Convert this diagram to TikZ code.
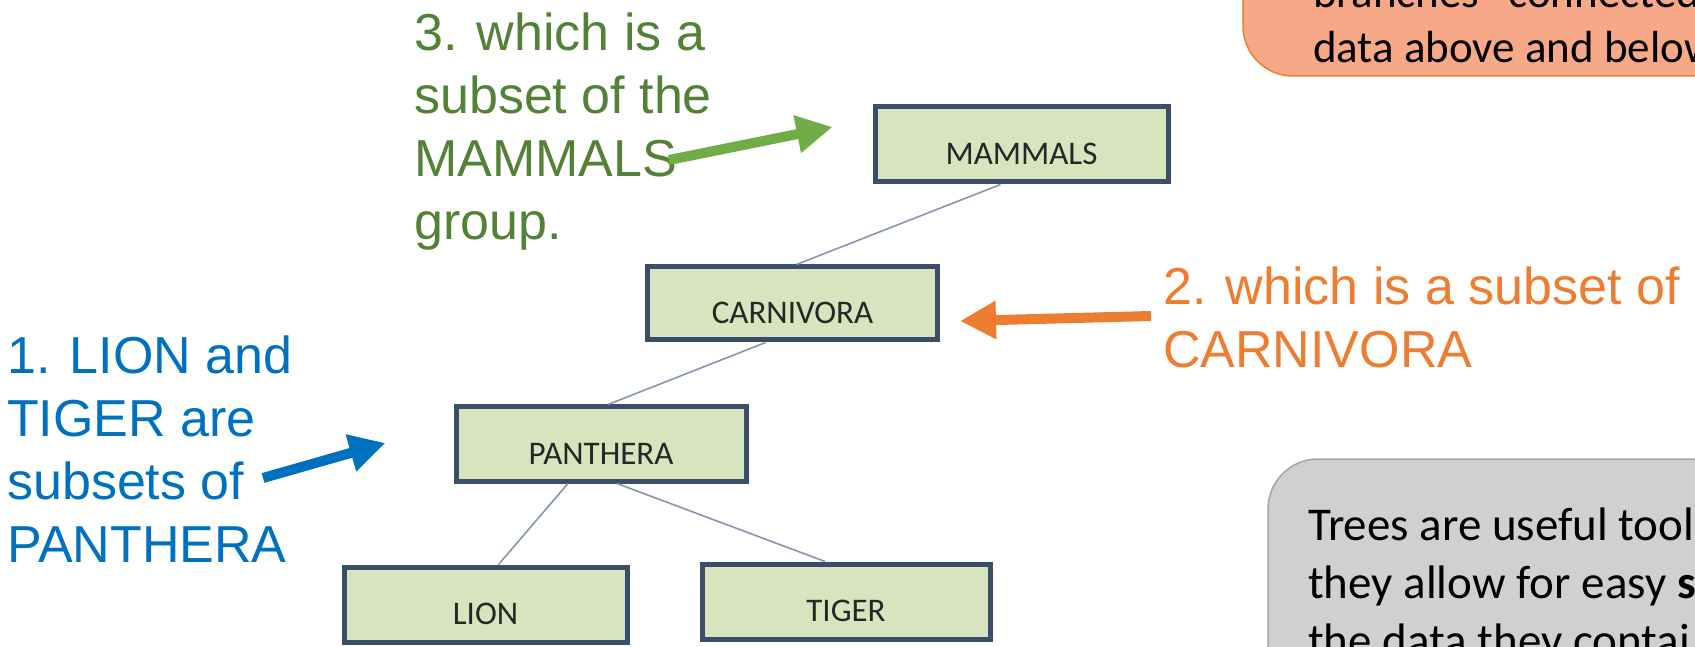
\documentclass[tikz,border=0pt]{standalone}
\usepackage{fontspec}
\setmainfont{Carlito}
\newfontfamily\arialfont{Liberation Sans}
\usetikzlibrary{arrows.meta}
\definecolor{boxfill}{HTML}{D7E4BD}
\definecolor{boxline}{HTML}{3A4D69}
\definecolor{branch}{HTML}{8496B0}
\definecolor{notegreen}{HTML}{538135}
\definecolor{arrowgreen}{HTML}{70AD47}
\definecolor{noteorange}{HTML}{ED7D31}
\definecolor{noteblue}{HTML}{0070C0}
\definecolor{calloutfill}{HTML}{F6A887}
\definecolor{greyfill}{HTML}{D0D0D0}
\definecolor{greyline}{HTML}{A6A6A6}

\begin{document}
\begin{tikzpicture}[x=1pt, y=1pt,
    taxon/.style={draw=boxline, fill=boxfill, line width=5pt, minimum width=290pt, minimum height=75pt, inner sep=0pt, text height=40pt, text depth=0pt, text=black!85, font=\fontsize{33}{40}\selectfont},
    branchline/.style={draw=branch, line width=1.6pt},
    note/.style={anchor=base west, align=left, inner sep=0pt, font=\arialfont\fontsize{52}{63}\selectfont},
    bigarrow/.style={line width=10pt, -{Triangle[length=36pt, width=36pt]}},
    callout/.style={rounded corners=50pt, line width=1.5pt},
    callouttext/.style={anchor=base west, align=left, inner sep=0pt, text=black}]
  \useasboundingbox (0,0) rectangle (1695,646);
  \clip (0,0) rectangle (1695,646);

  % callouts at the right, cut by the frame
  \draw[callout, draw=noteorange, fill=calloutfill] (1243,570) rectangle (1800,760);
  \node[callouttext, font=\fontsize{45}{55}\selectfont] (branchtext) at (1313,583) {branches” connected\\data above and below};
  \draw[callout, draw=greyline, fill=greyfill] (1268,187) rectangle (1800,-100);
  \node[callouttext, font=\fontsize{47}{58}\selectfont] (treetext) at (1308,-10) {Trees are useful tool\\they allow for easy \textbf{s}\\the data they contai};

  % the tree
  \node[taxon, minimum width=293pt] (mammals) at (1021.5,501.5) {MAMMALS};
  \node[taxon, minimum height=73pt] (carnivora) at (792.5,342.5) {CARNIVORA};
  \node[taxon, minimum height=74pt] (panthera) at (601,202) {PANTHERA};
  \node[taxon, minimum width=283pt] (lion) at (485.5,41.5) {LION};
  \node[taxon, minimum width=288pt] (tiger) at (846,44.5) {TIGER};

  \draw[branchline] ([xshift=-21pt]mammals.south) -- ([xshift=4pt]carnivora.north);
  \draw[branchline] ([xshift=-27pt]carnivora.south) -- ([xshift=7pt]panthera.north);
  \draw[branchline] ([xshift=-33pt]panthera.south) -- ([xshift=13pt]lion.north);
  \draw[branchline] ([xshift=16pt]panthera.south) -- ([xshift=-21pt]tiger.north);

  % notes and their arrows
  \node[note, text=notegreen] (mammalnote) at (414,406) {3. which is a\\subset of the\\MAMMALS\\group.};
  \node[note, text=noteorange] (carnivoranote) at (1163,278) {2. which is a subset of\\CARNIVORA};
  \node[note, text=noteblue] (pantheranote) at (7,84) {1. LION and\\TIGER are\\subsets of\\PANTHERA};

  \coordinate (greentail) at (669,486);
  \coordinate (orangetail) at (1151,330);
  \coordinate (bluetail) at (263,168);
  \draw[bigarrow, arrowgreen] (greentail) -- ([xshift=-40pt, yshift=17.5pt]mammals.west);
  \draw[bigarrow, noteorange] (orangetail) -- ([xshift=20pt, yshift=-17.5pt]carnivora.east);
  \draw[bigarrow, noteblue] (bluetail) -- ([xshift=-68pt, yshift=1pt]panthera.west);
\end{tikzpicture}
\end{document}
